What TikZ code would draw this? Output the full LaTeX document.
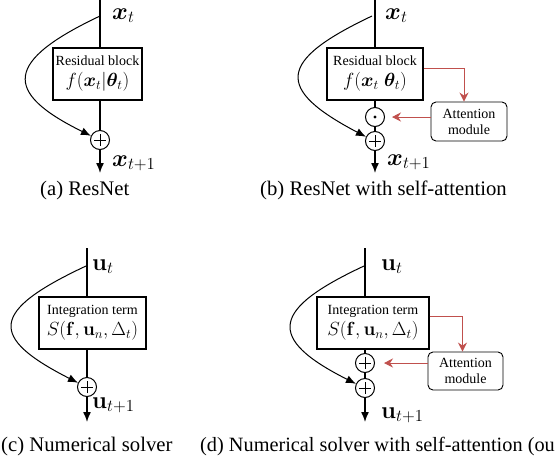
\RequirePackage{fix-cm}
\documentclass[tikz,border=0pt]{standalone}
\usepackage{amsmath,bm}
\usepackage[no-math]{fontspec}
\setmainfont{Liberation Serif}
\usetikzlibrary{arrows.meta}
\definecolor{attred}{RGB}{192,80,77}
\begin{document}
\begin{tikzpicture}[x=1pt,y=-1pt,
  conn/.style={line width=1.4pt},
  arr/.style={line width=1.4pt,-{Latex[length=10pt,width=8pt]}},
  curvearr/.style={line width=1pt,-{Latex[length=10pt,width=8pt]}},
  resbox/.style={draw,line width=1.2pt,inner sep=0pt,align=center,font=\fontsize{14}{18}\selectfont},
  attbox/.style={draw,line width=0.9pt,rounded corners=5pt,inner sep=0pt,align=center,font=\fontsize{14}{16}\selectfont},
  sumnode/.style={circle,draw,line width=1pt,minimum size=19pt,inner sep=0pt,
    path picture={\draw[line width=0.6pt] ([xshift=-6pt]path picture bounding box.center) -- ([xshift=6pt]path picture bounding box.center);
      \draw[line width=0.6pt] ([yshift=-6pt]path picture bounding box.center) -- ([yshift=6pt]path picture bounding box.center);}},
  dotnode/.style={circle,draw,line width=1pt,minimum size=19pt,inner sep=0pt,
    path picture={\fill (path picture bounding box.center) circle (1.7pt);}},
  redarr/.style={draw=attred,line width=1pt,-{Stealth[length=9pt,width=9pt,inset=3pt]}},
  lab/.style={anchor=base west,inner sep=0pt,font=\fontsize{24}{24}\selectfont},
  captext/.style={anchor=base west,inner sep=0pt,font=\fontsize{20.7}{22}\selectfont}]
\useasboundingbox (0,0) rectangle (560,456);
\clip (0,0) rectangle (560,456);

% ---------- (a) ----------
\coordinate (topa) at (100,0);
\coordinate (ca) at (100,16);
\coordinate (enda) at (100,173);
\node[resbox,minimum width=89pt,minimum height=52pt] (boxa) at (97.5,74) {Residual block\\[3pt]{\fontsize{19}{21}\selectfont $f(\bm{x}_t|\bm{\theta}_t)$}};
\node[sumnode] (suma) at (100,140) {};
\draw[conn] (topa) -- (topa |- boxa.north);
\draw[conn] (topa |- boxa.south) -- (suma);
\draw[arr] (suma) -- (enda);
\draw[curvearr] (ca) .. controls (5,61) and (2,92) .. (suma.155);
\node[lab] (xta) at (112,19) {$\bm{x}_t$};
\node[lab] (xt1a) at (112,166) {$\bm{x}_{t+1}$};
\node[captext] (capa) at (40,195) {(a) ResNet};

% ---------- (b) ----------
\coordinate (topb) at (375,0);
\coordinate (cb) at (372,16);
\coordinate (endb) at (375,173);
\node[resbox,minimum width=96pt,minimum height=52pt] (boxb) at (375,74) {Residual block\\[3pt]{\fontsize{19}{21}\selectfont $f(\bm{x}_t\;\bm{\theta}_t)$}};
\node[dotnode] (dotb) at (375,117) {};
\node[sumnode] (sumb) at (375,141) {};
\node[attbox,minimum width=76pt,minimum height=39pt] (attb) at (469,121.5) {Attention\\module};
\draw[conn] (topb) -- (boxb.north);
\draw[conn] (boxb.south) -- (dotb);
\draw[conn] (dotb) -- (sumb);
\draw[arr] (sumb) -- (endb);
\draw[curvearr] (cb) .. controls (277,61) and (275,89) .. (sumb.155);
\draw[redarr] ([yshift=6pt]boxb.east) -| ([xshift=-5pt]attb.north);
\draw[redarr,shorten >=7pt] (attb.west |- dotb) -- (dotb.east);
\node[lab] (xtb) at (385,19) {$\bm{x}_t$};
\node[lab] (xt1b) at (387,165) {$\bm{x}_{t+1}$};
\node[captext] (capb) at (260,195) {(b) ResNet with self-attention};

% ---------- (c) ----------
\coordinate (topc) at (87,248);
\coordinate (cc) at (86,266);
\coordinate (endc) at (87,422);
\node[resbox,minimum width=107pt,minimum height=52pt] (boxc) at (92.5,323) {Integration term\\[3pt]{\fontsize{19}{21}\selectfont $S(\mathbf{f},\mathbf{u}_n,\Delta_t)$}};
\node[sumnode] (sumc) at (87,387) {};
\draw[conn] (topc) -- (topc |- boxc.north);
\draw[conn] (topc |- boxc.south) -- (sumc);
\draw[arr] (sumc) -- (endc);
\draw[curvearr] (cc) .. controls (-10,311) and (-12,337) .. (sumc.155);
\node[lab] (uc) at (92,270) {$\mathbf{u}_t$};
\node[lab] (uc1) at (92,408) {$\mathbf{u}_{t+1}$};
\node[captext] (capc) at (1,451) {(c) Numerical solver};

% ---------- (d) ----------
\coordinate (topd) at (365,248);
\coordinate (cd) at (364,266);
\coordinate (endd) at (365,422);
\node[resbox,minimum width=112pt,minimum height=52pt] (boxd) at (373,323) {Integration term\\[3pt]{\fontsize{19}{21}\selectfont $S(\mathbf{f},\mathbf{u}_n,\Delta_t)$}};
\node[sumnode] (sumd1) at (365,363) {};
\node[sumnode] (sumd2) at (365,388) {};
\node[attbox,minimum width=75pt,minimum height=38pt] (attd) at (465.5,371) {Attention\\module};
\draw[conn] (topd) -- (topd |- boxd.north);
\draw[conn] (topd |- boxd.south) -- (sumd1);
\draw[conn] (sumd1) -- (sumd2);
\draw[arr] (sumd2) -- (endd);
\draw[curvearr] (cd) .. controls (272,309) and (265,338) .. (sumd2.155);
\draw[redarr] ([yshift=7pt]boxd.east) -| ([xshift=-3pt]attd.north);
\draw[redarr,shorten >=9pt] (attd.west |- sumd1) -- (sumd1.east);
\node[lab] (ud) at (381,270) {$\mathbf{u}_t$};
\node[lab] (ud1) at (381,418) {$\mathbf{u}_{t+1}$};
\node[captext,font=\fontsize{20.3}{22}\selectfont] (capd) at (200,451) {(d) Numerical solver with self-attention (ou};
\end{tikzpicture}
\end{document}
